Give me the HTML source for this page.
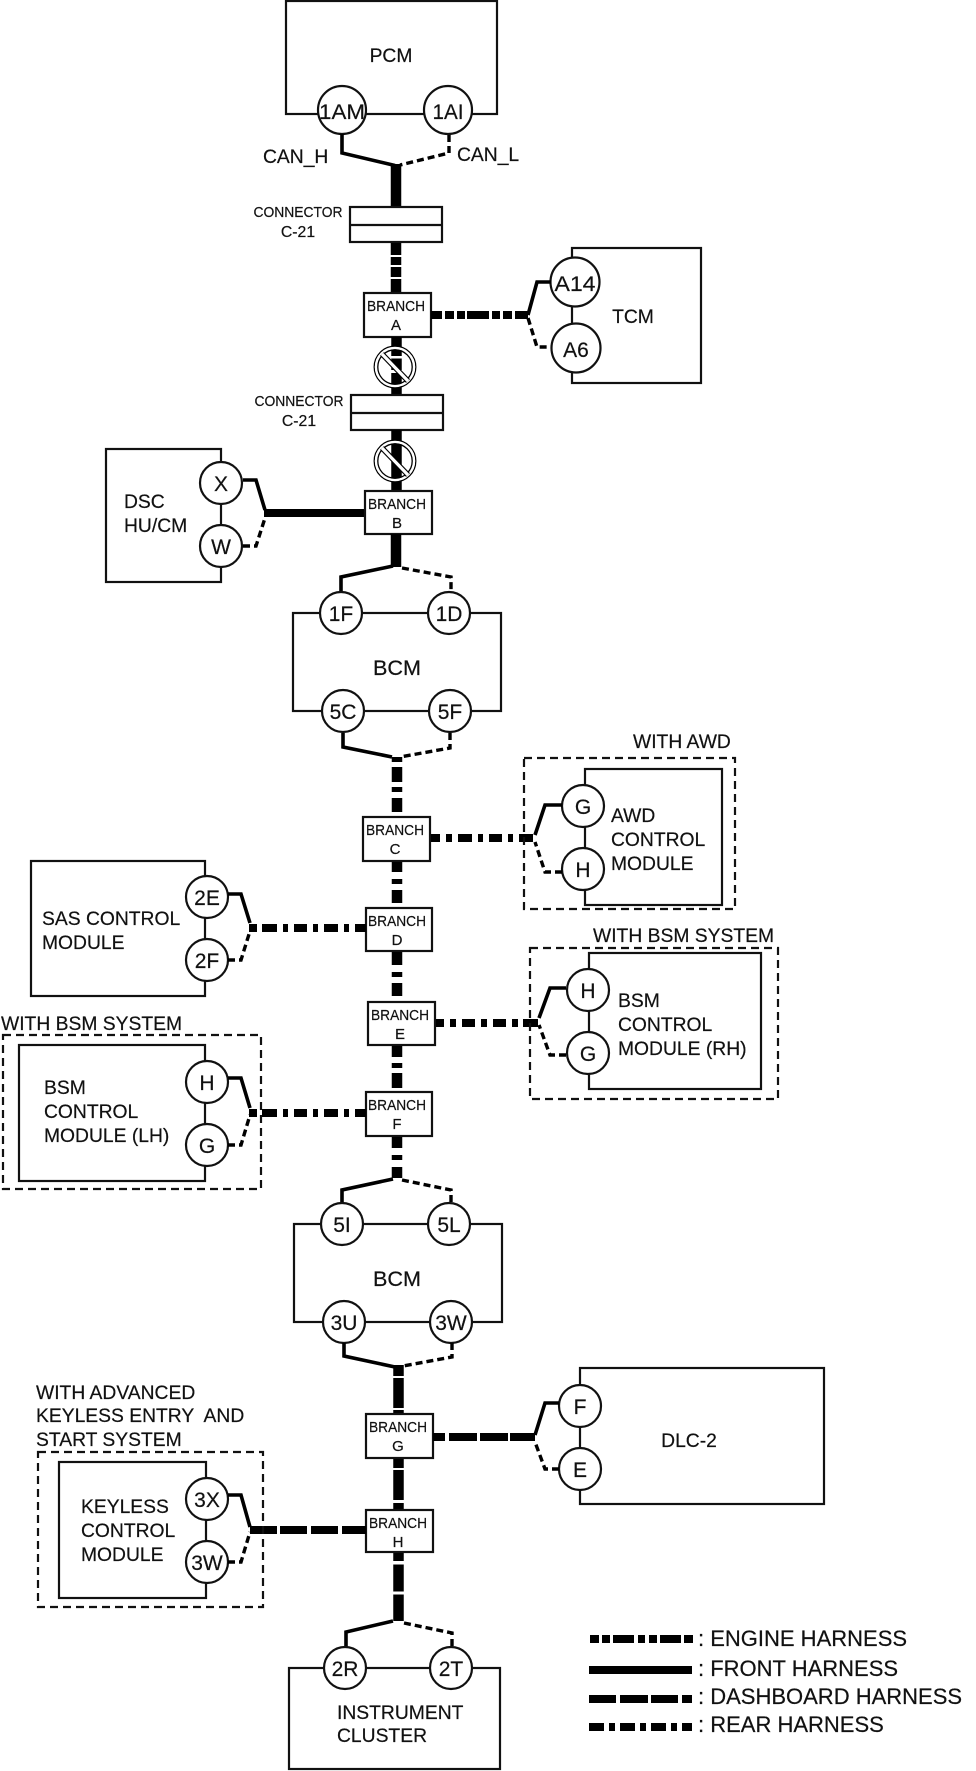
<!DOCTYPE html>
<html><head><meta charset="utf-8">
<style>
html,body{margin:0;padding:0;background:#fff}
svg{display:block}
text{font-family:"Liberation Sans",sans-serif;fill:#111;white-space:pre;stroke:#111;stroke-width:.2}
.box{fill:none;stroke:#111;stroke-width:2.2}
.dbox{fill:none;stroke:#111;stroke-width:2.2;stroke-dasharray:8 5}
.pin{fill:#fff;stroke:#111;stroke-width:2.2}
.s{fill:none;stroke:#000;stroke-width:3.6;stroke-linejoin:miter}
.d{fill:none;stroke:#000;stroke-width:3.4;stroke-dasharray:7 4}
.v{fill:none;stroke:#000;stroke-width:10.5}
.h{fill:none;stroke:#000;stroke-width:8}
.c{font-size:21px;text-anchor:middle}
.b{font-size:15px;text-anchor:middle}
.m{font-size:19.3px}
.mm{font-size:19.3px;text-anchor:middle}
.l{font-size:22px}
</style></head><body>
<svg width="976" height="1771" viewBox="0 0 976 1771" xmlns="http://www.w3.org/2000/svg">
<rect width="976" height="1771" fill="#fff"/>

<!-- PCM -->
<rect class="box" x="286" y="1" width="211" height="113"/>
<text class="mm" x="391" y="62">PCM</text>
<circle class="pin" cx="342" cy="110" r="24"/><text class="c" x="342" y="119" textLength="46" lengthAdjust="spacingAndGlyphs">1AM</text>
<circle class="pin" cx="448" cy="110" r="24"/><text class="c" x="448" y="119" textLength="31" lengthAdjust="spacingAndGlyphs">1AI</text>
<text class="m" x="263" y="163">CAN_H</text>
<text class="m" x="457" y="161">CAN_L</text>
<path class="s" d="M342 134V153L395 165.500"/>
<path class="d" d="M449 135V153L400 165"/>
<path class="v" d="M396 164V207"/>

<!-- Connector 1 -->
<rect class="box" x="350" y="207" width="92" height="35"/>
<path class="box" d="M350 225H442"/>
<text class="b" x="298" y="217" textLength="89" lengthAdjust="spacingAndGlyphs">CONNECTOR</text>
<text class="b" x="298" y="237" style="font-size:15.800px">C-21</text>
<path class="v" d="M396 243V255M396 257V265M396 267V277M396 279V293"/>

<!-- Branch A -->
<rect class="box" x="364" y="293" width="67" height="44"/>
<text class="b" x="396" y="311" textLength="58" lengthAdjust="spacingAndGlyphs">BRANCH</text><text class="b" x="396" y="330">A</text>
<path class="h" d="M431 315H442M445 315H454M457 315H465M467 315H489M492 315H500M503 315H512M515 315H528"/>

<!-- TCM -->
<rect class="box" x="572" y="248" width="129" height="135"/>
<text class="mm" x="633" y="323">TCM</text>
<circle class="pin" cx="575" cy="282" r="24.500"/><text class="c" x="575" y="291" textLength="41" lengthAdjust="spacingAndGlyphs">A14</text>
<circle class="pin" cx="576" cy="348" r="24.500"/><text class="c" x="576" y="357">A6</text>
<path class="s" d="M528 315L537 282H551"/>
<path class="d" d="M528 318L537 347H551"/>

<!-- Prohibit 1 -->
<path class="v" d="M396.500 337V356M396.500 358.500V370M396.500 373V395"/>
<circle cx="395" cy="367" r="20.800" fill="none" stroke="#000" stroke-width="1.300"/>
<circle cx="395" cy="367" r="19" fill="none" stroke="#fff" stroke-width="2.400"/>
<circle cx="395" cy="367" r="17.200" fill="none" stroke="#000" stroke-width="1.300"/>
<path d="M382 354L408 381" stroke="#000" stroke-width="5.500" fill="none"/>
<path d="M382 354L408 381" stroke="#fff" stroke-width="3.200" fill="none"/>

<!-- Connector 2 -->
<rect class="box" x="351" y="395" width="92" height="35"/>
<path class="box" d="M351 413H443"/>
<text class="b" x="299" y="406" textLength="89" lengthAdjust="spacingAndGlyphs">CONNECTOR</text>
<text class="b" x="299" y="426" style="font-size:15.800px">C-21</text>

<!-- Prohibit 2 -->
<path class="v" d="M396.500 430V491"/>
<circle cx="395" cy="461" r="20.800" fill="none" stroke="#000" stroke-width="1.300"/>
<circle cx="395" cy="461" r="19" fill="none" stroke="#fff" stroke-width="2.400"/>
<circle cx="395" cy="461" r="17.200" fill="none" stroke="#000" stroke-width="1.300"/>
<path d="M382 448L408 475" stroke="#000" stroke-width="5.500" fill="none"/>
<path d="M382 448L408 475" stroke="#fff" stroke-width="3.200" fill="none"/>

<!-- DSC -->
<rect class="box" x="106" y="449" width="115" height="133"/>
<text class="m" x="124" y="508">DSC</text><text class="m" x="124" y="532">HU/CM</text>
<circle class="pin" cx="221" cy="483" r="21"/><text class="c" x="221" y="491">X</text>
<circle class="pin" cx="221" cy="546" r="21"/><text class="c" x="221" y="554">W</text>
<path class="s" d="M243 480H256L265 510"/>
<path class="d" d="M243 546H256L265 518"/>
<path class="h" d="M264 513H365"/>

<!-- Branch B -->
<rect class="box" x="365" y="491" width="67" height="43"/>
<text class="b" x="397" y="509" textLength="58" lengthAdjust="spacingAndGlyphs">BRANCH</text><text class="b" x="397" y="528">B</text>
<path class="v" d="M396 534V567"/>
<path class="s" d="M393 566L341 577V593"/>
<path class="d" d="M402 568L451 577V593"/>

<!-- BCM 1 -->
<rect class="box" x="293" y="613" width="208" height="98"/>
<text x="397" y="675" font-size="21.600" text-anchor="middle">BCM</text>
<circle class="pin" cx="341" cy="613" r="21"/><text class="c" x="341" y="621">1F</text>
<circle class="pin" cx="449" cy="613" r="21"/><text class="c" x="449" y="621">1D</text>
<circle class="pin" cx="343" cy="711" r="21"/><text class="c" x="343" y="719">5C</text>
<circle class="pin" cx="450" cy="711" r="21"/><text class="c" x="450" y="719">5F</text>
<path class="s" d="M343 733V747L392 757"/>
<path class="d" d="M450 733V748L400 757"/>
<path class="v" d="M397 757V762M397 767V782M397 787V792M397 798V812"/>

<!-- Branch C -->
<rect class="box" x="363" y="817" width="67" height="44"/>
<text class="b" x="395" y="835" textLength="58" lengthAdjust="spacingAndGlyphs">BRANCH</text><text class="b" x="395" y="854">C</text>
<path class="h" d="M431 838H440M446 838H452M458 838H472M478 838H483M489 838H502M508 838H513M519 838H533"/>
<path class="v" d="M397 862V872M397 879V884M397 890V903"/>

<!-- AWD -->
<text class="m" x="633" y="748">WITH AWD</text>
<rect class="dbox" x="524" y="758" width="211" height="151"/>
<rect class="box" x="585" y="769" width="137" height="136"/>
<circle class="pin" cx="583" cy="806" r="21"/><text class="c" x="583" y="814">G</text>
<circle class="pin" cx="583" cy="869" r="21"/><text class="c" x="583" y="877">H</text>
<text class="m" x="611" y="822">AWD</text><text class="m" x="611" y="846">CONTROL</text><text class="m" x="611" y="870">MODULE</text>
<path class="s" d="M562 805H545L535 835"/>
<path class="d" d="M562 872H545L535 842"/>

<!-- Branch D -->
<rect class="box" x="366" y="908" width="66" height="43"/>
<text class="b" x="397" y="926" textLength="58" lengthAdjust="spacingAndGlyphs">BRANCH</text><text class="b" x="397" y="945">D</text>
<path class="h" d="M249 928H257M262 928H277M283 928H288M294 928H307M313 928H318M324 928H338M344 928H349M355 928H366"/>
<path class="v" d="M397 952V965M397 972V977M397 983V996"/>

<!-- SAS -->
<rect class="box" x="31" y="861" width="174" height="135"/>
<text class="m" x="42" y="925">SAS CONTROL</text><text class="m" x="42" y="949">MODULE</text>
<circle class="pin" cx="207" cy="897" r="21"/><text class="c" x="207" y="905">2E</text>
<circle class="pin" cx="207" cy="960" r="21"/><text class="c" x="207" y="968">2F</text>
<path class="s" d="M228 894H241L250 923"/>
<path class="d" d="M228 960H241L250 931"/>

<!-- Branch E -->
<rect class="box" x="368" y="1002" width="67" height="43"/>
<text class="b" x="400" y="1020" textLength="58" lengthAdjust="spacingAndGlyphs">BRANCH</text><text class="b" x="400" y="1039">E</text>
<path class="h" d="M436 1023H444M450 1023H456M462 1023H475M481 1023H487M493 1023H506M512 1023H518M523 1023H538"/>
<path class="v" d="M397 1046V1057M397 1063V1068M397 1073V1088"/>

<!-- BSM RH -->
<text class="m" x="593" y="942">WITH BSM SYSTEM</text>
<rect class="dbox" x="530" y="948" width="248" height="151"/>
<rect class="box" x="589" y="953" width="172" height="136"/>
<circle class="pin" cx="588" cy="990" r="21"/><text class="c" x="588" y="998">H</text>
<circle class="pin" cx="588" cy="1053" r="21"/><text class="c" x="588" y="1061">G</text>
<text class="m" x="618" y="1007">BSM</text><text class="m" x="618" y="1031">CONTROL</text><text class="m" x="618" y="1055">MODULE (RH)</text>
<path class="s" d="M566 988H550L539 1018"/>
<path class="d" d="M566 1055H550L539 1025"/>

<!-- Branch F -->
<rect class="box" x="366" y="1092" width="66" height="44"/>
<text class="b" x="397" y="1110" textLength="58" lengthAdjust="spacingAndGlyphs">BRANCH</text><text class="b" x="397" y="1129">F</text>
<path class="h" d="M249 1113H257M262 1113H277M283 1113H288M294 1113H307M313 1113H318M324 1113H338M344 1113H349M355 1113H366"/>
<path class="v" d="M397 1137V1148M397 1155V1160M397 1167V1178"/>

<!-- BSM LH -->
<text class="m" x="1" y="1030">WITH BSM SYSTEM</text>
<rect class="dbox" x="3" y="1035" width="258" height="154"/>
<rect class="box" x="19" y="1045" width="186" height="136"/>
<circle class="pin" cx="207" cy="1082" r="21"/><text class="c" x="207" y="1090">H</text>
<circle class="pin" cx="207" cy="1145" r="21"/><text class="c" x="207" y="1153">G</text>
<text class="m" x="44" y="1094">BSM</text><text class="m" x="44" y="1118">CONTROL</text><text class="m" x="44" y="1142">MODULE (LH)</text>
<path class="s" d="M228 1078H241L250 1108"/>
<path class="d" d="M228 1145H241L250 1115"/>

<!-- fork to BCM 2 -->
<path class="s" d="M393 1179L342 1190V1203"/>
<path class="d" d="M402 1180L451 1190V1203"/>

<!-- BCM 2 -->
<rect class="box" x="294" y="1224" width="208" height="98"/>
<text x="397" y="1286" font-size="21.600" text-anchor="middle">BCM</text>
<circle class="pin" cx="342" cy="1224" r="21"/><text class="c" x="342" y="1232">5I</text>
<circle class="pin" cx="449" cy="1224" r="21"/><text class="c" x="449" y="1232">5L</text>
<circle class="pin" cx="344" cy="1322" r="21"/><text class="c" x="344" y="1330">3U</text>
<circle class="pin" cx="451" cy="1322" r="21"/><text class="c" x="451" y="1330">3W</text>
<path class="s" d="M344 1343V1356L395 1367"/>
<path class="d" d="M452 1343V1357L403 1366"/>
<path class="v" d="M398.500 1365V1376M398.500 1378V1408M398.500 1410V1414"/>

<!-- Branch G -->
<rect class="box" x="366" y="1414" width="67" height="44"/>
<text class="b" x="398" y="1432" textLength="58" lengthAdjust="spacingAndGlyphs">BRANCH</text><text class="b" x="398" y="1451">G</text>
<path class="h" d="M433 1437H445M449 1437H477M480 1437H508M510 1437H535"/>
<path class="v" d="M398.500 1459V1468M398.500 1470V1500M398.500 1503V1510"/>

<!-- DLC -->
<rect class="box" x="580" y="1368" width="244" height="136"/>
<circle class="pin" cx="580" cy="1406" r="21"/><text class="c" x="580" y="1414">F</text>
<circle class="pin" cx="580" cy="1469" r="21"/><text class="c" x="580" y="1477">E</text>
<text class="mm" x="689" y="1447">DLC-2</text>
<path class="s" d="M559 1403H545L535 1435"/>
<path class="d" d="M559 1469H545L535 1442"/>

<!-- Branch H -->
<rect class="box" x="366" y="1510" width="67" height="42"/>
<text class="b" x="398" y="1528" textLength="58" lengthAdjust="spacingAndGlyphs">BRANCH</text><text class="b" x="398" y="1547">H</text>
<path class="h" d="M250 1530H277M280 1530H307M311 1530H338M342 1530H366"/>
<path class="v" d="M398.500 1553V1561M398.500 1564.500V1591.500M398.500 1594.500V1621"/>

<!-- Keyless -->
<text class="m" x="36" y="1399">WITH ADVANCED</text>
<text class="m" x="36" y="1422">KEYLESS ENTRY  AND</text>
<text class="m" x="36" y="1446">START SYSTEM</text>
<rect class="dbox" x="38" y="1452" width="225" height="155"/>
<rect class="box" x="59" y="1462" width="147" height="136"/>
<circle class="pin" cx="207" cy="1499" r="21"/><text class="c" x="207" y="1507">3X</text>
<circle class="pin" cx="207" cy="1562" r="21"/><text class="c" x="207" y="1570">3W</text>
<text class="m" x="81" y="1513">KEYLESS</text><text class="m" x="81" y="1537">CONTROL</text><text class="m" x="81" y="1561">MODULE</text>
<path class="s" d="M228 1495H241L250 1527"/>
<path class="d" d="M228 1562H241L250 1532"/>

<!-- Instrument cluster -->
<path class="s" d="M393 1621L346 1632V1647"/>
<path class="d" d="M404 1623L452 1633V1647"/>
<rect class="box" x="289" y="1668" width="211" height="101"/>
<circle class="pin" cx="345" cy="1668" r="21"/><text class="c" x="345" y="1676">2R</text>
<circle class="pin" cx="451" cy="1668" r="21"/><text class="c" x="451" y="1676">2T</text>
<text class="m" x="337" y="1719">INSTRUMENT</text><text class="m" x="337" y="1742">CLUSTER</text>

<!-- Legend -->
<path class="h" d="M590 1639H599M602 1639H610M613 1639H634M638 1639H645M649 1639H657M660 1639H681M684 1639H693"/>
<path class="h" stroke-width="8.500" d="M589 1670H692"/>
<path class="h" d="M589 1699H616M620 1699H648M651 1699H678M682 1699H692"/>
<path class="h" d="M589 1727H604M609 1727H615M620 1727H635M640 1727H646M651 1727H666M671 1727H677M682 1727H692"/>
<text class="l" x="698" y="1646">: ENGINE HARNESS</text>
<text class="l" x="698" y="1676">: FRONT HARNESS</text>
<text class="l" x="698" y="1704">: DASHBOARD HARNESS</text>
<text class="l" x="698" y="1732">: REAR HARNESS</text>
</svg>
</body></html>
